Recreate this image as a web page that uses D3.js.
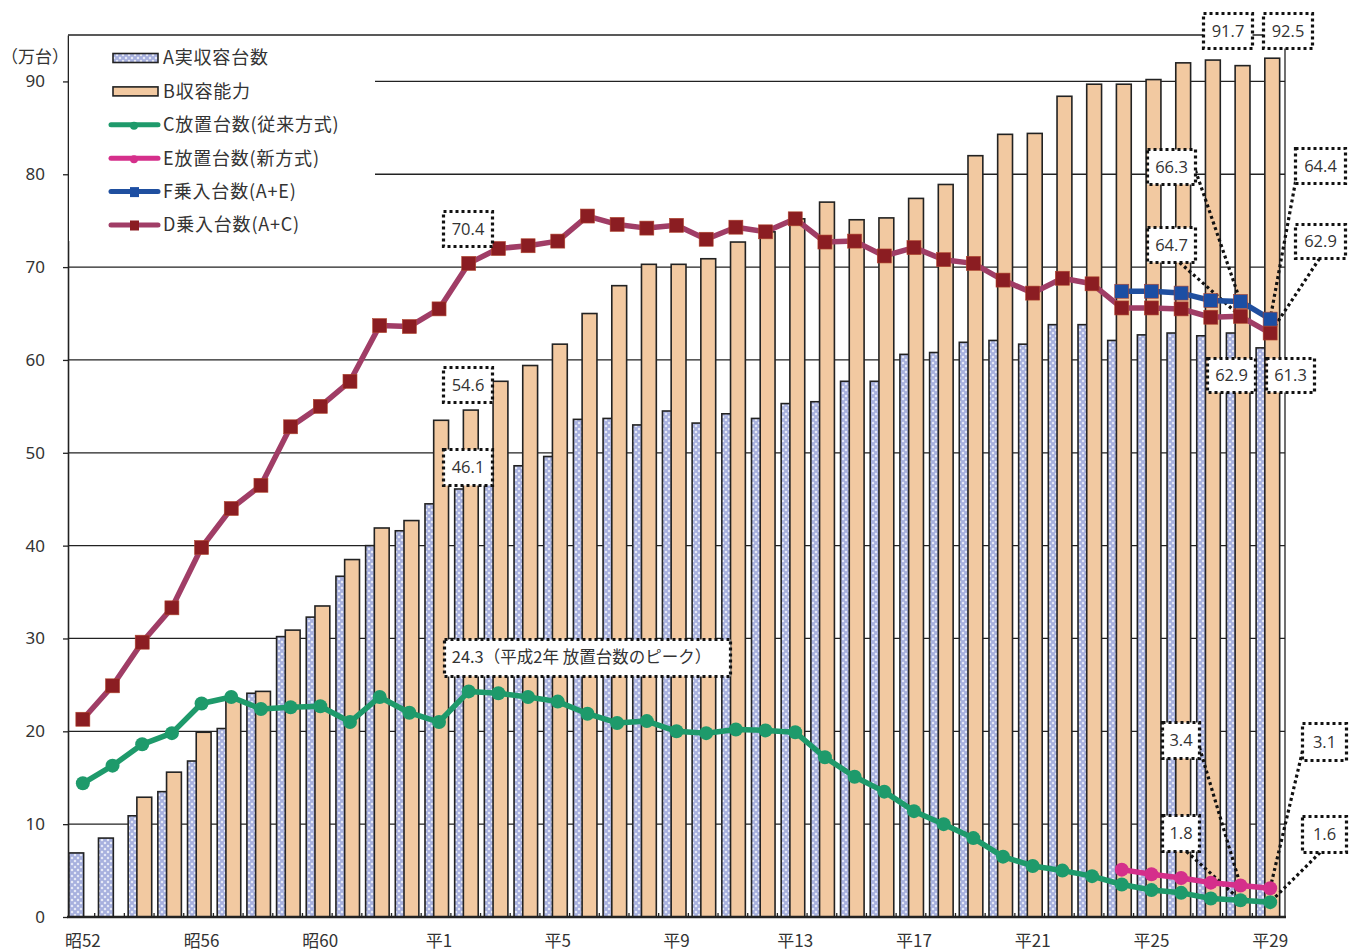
<!DOCTYPE html>
<html>
<head>
<meta charset="utf-8">
<script src="https://cdn.jsdelivr.net/npm/d3@7"></script>
<style>
body { margin: 0; background: #fff; }
text { font-family: "Noto Sans CJK JP", "Noto Sans", sans-serif; fill: #333; }
.num { font-family: "Open Sans", "Noto Sans", sans-serif; }
</style>
</head>
<body>
<div id="chart"></div>
<script>
// 年度 (昭52 - 平29)
var years = ["昭52","昭53","昭54","昭55","昭56","昭57","昭58","昭59","昭60","昭61","昭62","昭63",
    "平1","平2","平3","平4","平5","平6","平7","平8","平9","平10","平11","平12","平13","平14",
    "平15","平16","平17","平18","平19","平20","平21","平22","平23","平24","平25","平26","平27","平28","平29"];
var tickYears = ["昭52","昭56","昭60","平1","平5","平9","平13","平17","平21","平25","平29"];

// A 実収容台数
var jitsuShuyo = [6.9, 8.5, 10.9, 13.5, 16.8, 20.3, 24.1, 30.2, 32.3, 36.7, 40.0, 41.6,
    44.5, 46.1, 47.8, 48.6, 49.6, 53.6, 53.7, 53.0, 54.5, 53.2, 54.2, 53.7, 55.3, 55.5,
    57.7, 57.7, 60.6, 60.8, 61.9, 62.1, 61.7, 63.8, 63.8, 62.1, 62.7, 62.9, 62.6, 62.9, 61.3];
// B 収容能力 (昭52・昭53 はなし)
var shuyoNoryoku = [null, null, 12.9, 15.6, 19.9, 23.3, 24.3, 30.9, 33.5, 38.5, 41.9, 42.7,
    53.5, 54.6, 57.7, 59.4, 61.7, 65.0, 68.0, 70.3, 70.3, 70.9, 72.7, 73.8, 75.2, 77.0,
    75.1, 75.3, 77.4, 78.9, 82.0, 84.3, 84.4, 88.4, 89.7, 89.7, 90.2, 92.0, 92.3, 91.7, 92.5];
// C 放置台数(従来方式)
var houchiOld = [14.4, 16.3, 18.6, 19.8, 23.0, 23.7, 22.4, 22.6, 22.7, 21.0, 23.7, 22.0,
    21.0, 24.3, 24.1, 23.7, 23.2, 21.9, 20.9, 21.1, 20.0, 19.8, 20.2, 20.1, 19.9, 17.2,
    15.1, 13.5, 11.4, 10.0, 8.5, 6.5, 5.5, 5.0, 4.4, 3.5, 2.9, 2.6, 2.0, 1.8, 1.6];
// D 乗入台数(A+C)
var noriire = [21.3, 24.9, 29.6, 33.3, 39.8, 44.0, 46.5, 52.8, 55.0, 57.7, 63.7, 63.6,
    65.5, 70.4, 72.0, 72.3, 72.8, 75.5, 74.6, 74.2, 74.5, 73.0, 74.3, 73.8, 75.2, 72.7,
    72.8, 71.2, 72.1, 70.8, 70.4, 68.6, 67.2, 68.8, 68.2, 65.6, 65.6, 65.5, 64.6, 64.7, 62.9];
// 新方式 (平24 -)
var newYears = ["平24","平25","平26","平27","平28","平29"];
var houchiNew = [5.1, 4.6, 4.2, 3.7, 3.4, 3.1];    // E 放置台数(新方式)
var noriireNew = [67.4, 67.4, 67.2, 66.4, 66.3, 64.4]; // F 乗入台数(A+E)

var width = 1361, height = 952;
var plotL = 68, plotR = 1285, plotT = 35, plotB = 917;

var svg = d3.select("#chart").append("svg")
    .attr("width", width)
    .attr("height", height);

var x = d3.scaleBand().domain(years).range([plotL, plotR]).padding(0);
var y = d3.scaleLinear().domain([0, 95]).range([plotB, plotT]);
var bw = x.bandwidth();
var cx = function (yr) { return x(yr) + bw / 2; };
var fmt = d3.format(".1f");

// hatch pattern for A
var pat = svg.append("defs").append("pattern")
    .attr("id", "hatchA")
    .attr("patternUnits", "userSpaceOnUse")
    .attr("width", 6).attr("height", 6);
pat.append("rect").attr("width", 6).attr("height", 6).attr("fill", "#a7b0de");
pat.append("path").attr("d", "M3,1.5L4.5,3L3,4.5L1.5,3Z M0,-1.5L1.5,0L0,1.5L-1.5,0Z M6,-1.5L7.5,0L6,1.5L4.5,0Z M0,4.5L1.5,6L0,7.5L-1.5,6Z M6,4.5L7.5,6L6,7.5L4.5,6Z")
    .attr("fill", "#eef0fa");

// grid
svg.append("g").selectAll("line")
    .data(d3.range(10, 91, 10))
    .enter().append("line")
    .attr("x1", plotL).attr("x2", plotR)
    .attr("y1", function (d) { return y(d); })
    .attr("y2", function (d) { return y(d); })
    .attr("stroke", "#222").attr("stroke-width", 1.3);

// bars
var barsA = years.map(function (yr, i) { return {yr: yr, v: jitsuShuyo[i]}; });
var barsB = years.map(function (yr, i) { return {yr: yr, v: shuyoNoryoku[i]}; })
    .filter(function (d) { return d.v != null; });

svg.append("g").selectAll("rect")
    .data(barsA)
    .enter().append("rect")
    .attr("x", function (d) { return x(d.yr) + 0.8; })
    .attr("width", bw * 0.5)
    .attr("y", function (d) { return y(d.v); })
    .attr("height", function (d) { return y(0) - y(d.v); })
    .attr("fill", "url(#hatchA)")
    .attr("stroke", "#222").attr("stroke-width", 1.6);

svg.append("g").selectAll("rect")
    .data(barsB)
    .enter().append("rect")
    .attr("x", function (d) { return x(d.yr) + bw * 0.32; })
    .attr("width", bw * 0.5)
    .attr("y", function (d) { return y(d.v); })
    .attr("height", function (d) { return y(0) - y(d.v); })
    .attr("fill", "#f2c9a1")
    .attr("stroke", "#222").attr("stroke-width", 1.6);

// frame
svg.append("line").attr("x1", plotL).attr("x2", plotR).attr("y1", plotT).attr("y2", plotT)
    .attr("stroke", "#222").attr("stroke-width", 1.3);
svg.append("line").attr("x1", plotR).attr("x2", plotR).attr("y1", plotT).attr("y2", plotB)
    .attr("stroke", "#222").attr("stroke-width", 1.3);

// y axis
var yAxis = svg.append("g")
    .attr("transform", "translate(" + plotL + ",0)")
    .call(d3.axisLeft(y).tickValues(d3.range(0, 91, 10)).tickSize(5).tickSizeOuter(0).tickPadding(18));
yAxis.select(".domain").attr("stroke", "#222").attr("stroke-width", 1.6);
yAxis.selectAll(".tick line").attr("stroke", "#222").attr("stroke-width", 1.3);
yAxis.selectAll(".tick text")
    .style("font-family", "'Noto Sans', sans-serif")
    .style("font-size", "17px").attr("fill", "#333");

svg.append("text")
    .attr("x", 35).attr("y", 57).attr("dy", "0.35em")
    .attr("text-anchor", "middle")
    .style("font-size", "17px")
    .text("（万台）");

// x axis
svg.append("g").selectAll("line")
    .data(years.slice(1))
    .enter().append("line")
    .attr("x1", function (d) { return x(d) - 3; })
    .attr("x2", function (d) { return x(d) - 3; })
    .attr("y1", plotB).attr("y2", plotB - 4)
    .attr("stroke", "#222").attr("stroke-width", 1.3);
svg.append("line").attr("x1", plotL - 1).attr("x2", plotR + 1).attr("y1", plotB).attr("y2", plotB)
    .attr("stroke", "#222").attr("stroke-width", 2.5);
svg.append("g").selectAll("text")
    .data(tickYears)
    .enter().append("text")
    .attr("x", function (d) { return cx(d); })
    .attr("y", 941)
    .attr("dy", "0.35em")
    .attr("text-anchor", "middle")
    .style("font-size", "17px")
    .text(function (d) { return d; });

// legend
var legend = [
    {name: "A実収容台数", type: "bar", fill: "url(#hatchA)"},
    {name: "B収容能力", type: "bar", fill: "#f2c9a1"},
    {name: "C放置台数(従来方式)", type: "line", color: "#1e9a6b", marker: "circle"},
    {name: "E放置台数(新方式)", type: "line", color: "#d52f8b", marker: "circle"},
    {name: "F乗入台数(A+E)", type: "line", color: "#1f4f9f", mcolor: "#1c4ea3", marker: "square"},
    {name: "D乗入台数(A+C)", type: "line", color: "#a03d66", mcolor: "#8b1d22", marker: "square"}
];
svg.append("rect").attr("x", plotL + 1).attr("y", plotT + 1).attr("width", 306).attr("height", 205)
    .attr("fill", "#fff");
var lg = svg.append("g").selectAll("g")
    .data(legend)
    .enter().append("g")
    .attr("transform", function (d, i) { return "translate(0," + (58 + i * 33.4) + ")"; });
lg.filter(function (d) { return d.type === "bar"; })
    .append("rect")
    .attr("x", 113).attr("y", -4.5).attr("width", 45).attr("height", 9)
    .attr("fill", function (d) { return d.fill; })
    .attr("stroke", "#222").attr("stroke-width", 1.6);
lg.filter(function (d) { return d.type === "line"; })
    .append("line")
    .attr("x1", 111).attr("x2", 158).attr("y1", 0).attr("y2", 0)
    .attr("stroke", function (d) { return d.color; })
    .attr("stroke-width", 5).attr("stroke-linecap", "round");
lg.filter(function (d) { return d.marker === "circle"; })
    .append("circle").attr("cx", 134).attr("cy", 1).attr("r", 4)
    .attr("fill", function (d) { return d.color; });
lg.filter(function (d) { return d.marker === "square"; })
    .append("rect").attr("x", 130).attr("y", -4.5).attr("width", 9).attr("height", 10)
    .attr("fill", function (d) { return d.mcolor; });
lg.append("text")
    .attr("x", 163).attr("y", 0).attr("dy", "0.36em")
    .style("font-size", "18px")
    .style("letter-spacing", "0.8px")
    .text(function (d) { return d.name; });

// annotations (offsets relative to the data point)
var ann = [
    {series: noriire, yr: "平2", dx: -1.5, dy: -34.5, w: 49, h: 35},
    {series: shuyoNoryoku, yr: "平2", dx: -1.5, dy: -25.5, w: 49, h: 35},
    {series: jitsuShuyo, yr: "平2", dx: -1.5, dy: -22, w: 49, h: 36},
    {series: shuyoNoryoku, yr: "平28", dx: -12.5, dy: -35, w: 49, h: 35},
    {series: shuyoNoryoku, yr: "平29", dx: 17.5, dy: -27.7, w: 49, h: 35},
    {series: noriireNew, yr: "平28", dx: -69, dy: -135, w: 48, h: 35, lx: 1, ly: 0.6},
    {series: noriire, yr: "平28", dx: -69, dy: -72, w: 48, h: 35, lx: 0.67, ly: 1},
    {series: jitsuShuyo, yr: "平28", dx: -9, dy: 42, w: 48, h: 34},
    {series: jitsuShuyo, yr: "平29", dx: 20, dy: 27, w: 48, h: 34},
    {series: noriireNew, yr: "平29", dx: 50, dy: -153.6, w: 50, h: 35, lx: 0, ly: 0.95},
    {series: noriire, yr: "平29", dx: 50, dy: -92, w: 50, h: 34, lx: 0.48, ly: 1},
    {series: houchiNew, yr: "平28", dx: -59.5, dy: -145.4, w: 37, h: 36, lx: 1, ly: 0.7},
    {series: houchiOld, yr: "平28", dx: -59.5, dy: -67, w: 37, h: 36, lx: 0.65, ly: 1},
    {series: houchiNew, yr: "平29", dx: 54, dy: -146.7, w: 44, h: 37, lx: 0, ly: 0.75},
    {series: houchiOld, yr: "平29", dx: 54, dy: -68, w: 44, h: 36, lx: 0.4, ly: 1}
];
ann.forEach(function (a) {
    var idx = a.series.length === newYears.length ? newYears.indexOf(a.yr) : years.indexOf(a.yr);
    a.v = a.series[idx];
    a.px = cx(a.yr);
    a.py = y(a.v);
    a.bx = Math.round(a.px + a.dx - a.w / 2) + 0.5;
    a.by = Math.round(a.py + a.dy - a.h / 2) + 0.5;
});

// leader lines
svg.append("g").selectAll("line")
    .data(ann.filter(function (a) { return a.lx != null; }))
    .enter().append("line")
    .attr("x1", function (a) { return a.bx + a.lx * a.w; })
    .attr("y1", function (a) { return a.by + a.ly * a.h; })
    .attr("x2", function (a) { return a.px; })
    .attr("y2", function (a) { return a.py; })
    .attr("stroke", "#111").attr("stroke-width", 3.2)
    .attr("stroke-dasharray", "3,3");

// series lines
function drawSeries(cats, vals, color, mcolor, marker) {
    var pts = cats.map(function (c, i) { return {yr: c, v: vals[i]}; });
    var line = d3.line()
        .x(function (d) { return cx(d.yr); })
        .y(function (d) { return y(d.v); });
    var g = svg.append("g");
    g.append("path")
        .datum(pts)
        .attr("d", line)
        .attr("fill", "none")
        .attr("stroke", color)
        .attr("stroke-width", 5.5)
        .attr("stroke-linejoin", "round");
    if (marker === "circle") {
        g.selectAll("circle").data(pts).enter().append("circle")
            .attr("cx", function (d) { return cx(d.yr); })
            .attr("cy", function (d) { return y(d.v); })
            .attr("r", 7)
            .attr("fill", mcolor);
    } else {
        g.selectAll("rect").data(pts).enter().append("rect")
            .attr("x", function (d) { return cx(d.yr) - 7; })
            .attr("y", function (d) { return y(d.v) - 7; })
            .attr("width", 14).attr("height", 14)
            .attr("fill", mcolor)
            .attr("stroke", "#b0452e").attr("stroke-width", 0.6);
    }
}
drawSeries(years, houchiOld, "#1e9a6b", "#1e9a6b", "circle");
drawSeries(newYears, houchiNew, "#d52f8b", "#d52f8b", "circle");
drawSeries(years, noriire, "#a03d66", "#8b1d22", "square");
drawSeries(newYears, noriireNew, "#1f4f9f", "#1c4ea3", "square");

// annotation boxes
var ag = svg.append("g").selectAll("g")
    .data(ann)
    .enter().append("g");
ag.append("rect")
    .attr("x", function (a) { return a.bx; })
    .attr("y", function (a) { return a.by; })
    .attr("width", function (a) { return a.w; })
    .attr("height", function (a) { return a.h; })
    .attr("fill", "#fff")
    .attr("stroke", "#111").attr("stroke-width", 3.2)
    .attr("stroke-dasharray", "3,3");
ag.append("text")
    .attr("class", "num")
    .attr("x", function (a) { return a.bx + a.w / 2; })
    .attr("y", function (a) { return a.by + a.h / 2; })
    .attr("dy", "0.36em")
    .attr("text-anchor", "middle")
    .style("font-size", "16.5px")
    .text(function (a) { return fmt(a.v); });

// peak note
var peakIdx = years.indexOf("平2");
var px = cx("平2"), py = y(houchiOld[peakIdx]);
var note = svg.append("g");
note.append("rect")
    .attr("x", Math.round(px - 25) + 0.5).attr("y", Math.round(py - 52.5) + 0.5)
    .attr("width", 286).attr("height", 37)
    .attr("fill", "#fff")
    .attr("stroke", "#111").attr("stroke-width", 3.2)
    .attr("stroke-dasharray", "3,3");
note.append("text")
    .attr("x", px - 17).attr("y", py - 34)
    .attr("dy", "0.36em")
    .style("font-size", "16.5px")
    .text(fmt(houchiOld[peakIdx]) + "（平成2年 放置台数のピーク）");
</script>
</body>
</html>
